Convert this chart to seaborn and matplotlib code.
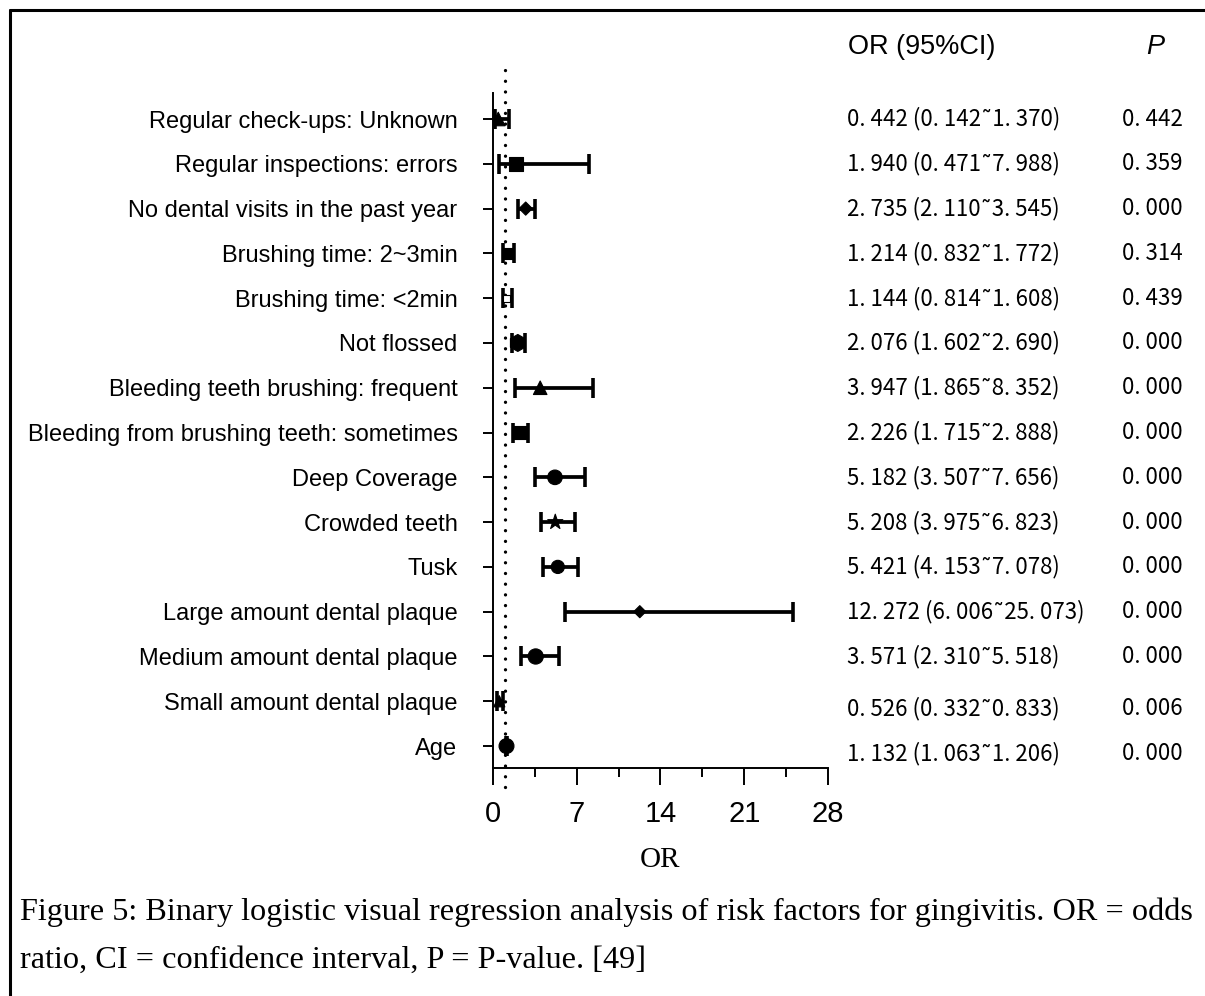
import matplotlib
matplotlib.use("Agg")
import matplotlib.pyplot as plt
import matplotlib.transforms as mtransforms
from matplotlib.lines import Line2D
from matplotlib.ticker import MultipleLocator
import numpy as np
import pandas as pd
import seaborn as sns

# data, top row first (as in the figure)
labels = [
    "Regular check-ups: Unknown",
    "Regular inspections: errors",
    "No dental visits in the past year",
    "Brushing time: 2~3min",
    "Brushing time: <2min",
    "Not flossed",
    "Bleeding teeth brushing: frequent",
    "Bleeding from brushing teeth: sometimes",
    "Deep Coverage",
    "Crowded teeth",
    "Tusk",
    "Large amount dental plaque",
    "Medium amount dental plaque",
    "Small amount dental plaque",
    "Age",
]
or_vals = [0.442, 1.940, 2.735, 1.214, 1.144, 2.076, 3.947, 2.226, 5.182, 5.208, 5.421, 12.272, 3.571, 0.526, 1.132]
ci_low = [0.142, 0.471, 2.110, 0.832, 0.814, 1.602, 1.865, 1.715, 3.507, 3.975, 4.153, 6.006, 2.310, 0.332, 1.063]
ci_high = [1.370, 7.988, 3.545, 1.772, 1.608, 2.690, 8.352, 2.888, 7.656, 6.823, 7.078, 25.073, 5.518, 0.833, 1.206]
p_vals = [0.442, 0.359, 0.000, 0.314, 0.439, 0.000, 0.000, 0.000, 0.000, 0.000, 0.000, 0.000, 0.000, 0.006, 0.000]
x_ticks = [0, 7, 14, 21, 28]

# marker shape / size per row
marker_list = ['^', 's', 'D', 's', 's', 'h', '^', 's', 'o', '*', 'o', 'D', 'o', '^', 'o']
size_list = [95, 95, 45, 65, 25, 150, 95, 95, 110, 130, 90, 38, 120, 65, 115]

n = len(labels)
df = pd.DataFrame({
    'label': labels,
    'OR': or_vals,
    'lo': ci_low,
    'hi': ci_high,
    'P': p_vals,
})
df['pos'] = np.arange(n)[::-1]

sns.set_style('ticks')
plt.rcParams['font.family'] = ['Liberation Sans', 'DejaVu Sans']
plt.rcParams.update({'text.color': 'black', 'axes.labelcolor': 'black',
                     'xtick.color': 'black', 'ytick.color': 'black',
                     'axes.edgecolor': 'black'})

fig = plt.figure(figsize=(12.05, 9.96), dpi=100)
ax = fig.add_axes([0.4091, 0.2289, 0.2780, 0.6777])

# CI bars
ax.errorbar(df['OR'], df['pos'],
            xerr=[df['OR'] - df['lo'], df['hi'] - df['OR']],
            fmt='none', ecolor='black', elinewidth=2.7,
            capsize=7, capthick=2.6, zorder=3)

# point estimates
sns.scatterplot(data=df, x='OR', y='pos', style='label', size='label',
                markers=dict(zip(labels, marker_list)),
                sizes=dict(zip(labels, size_list)),
                color='black', edgecolor='black', linewidth=0.8,
                legend=False, ax=ax, zorder=4)
# hollow marker for "<2min"
pts = ax.collections[-1]
fc = np.tile([0, 0, 0, 1.0], (n, 1))
fc[labels.index("Brushing time: <2min")] = [1, 1, 1, 1]
pts.set_facecolors(fc)

# reference line OR = 1
ax.plot([1, 1], [-0.92, 15.14], color='black', lw=2.4,
        linestyle=(0, (0.01, 3.2)), dash_capstyle='round',
        clip_on=False, zorder=2)

ax.set_xlim(0, 28)
ax.set_ylim(-0.49, 14.58)
ax.set_xticks(x_ticks)
ax.xaxis.set_minor_locator(MultipleLocator(3.5))
ax.set_yticks(df['pos'])
ax.set_yticklabels(labels, fontsize=17)
ax.tick_params(axis='y', length=7.5, width=1.4, pad=18)
ax.tick_params(axis='x', which='major', length=12, width=1.4, pad=11, labelsize=21)
ax.tick_params(axis='x', which='minor', length=6.5, width=1.4)
for s in ['left', 'bottom']:
    ax.spines[s].set_linewidth(1.4)
sns.despine(ax=ax)
ax.set_xlabel('OR', fontsize=21, family=['Liberation Serif'], labelpad=14)
ax.set_ylabel('')

# right-hand table
trans = mtransforms.blended_transform_factory(fig.transFigure, ax.transData)
cjk = ['Noto Sans CJK SC', 'DejaVu Sans']
y_shift = [0] * (n - 2) + [-0.16, -0.16]
for i in range(n):
    fmt = lambda v: f"{v:.3f}".replace('.', '. ')
    txt = f"{fmt(or_vals[i])} ({fmt(ci_low[i])}\u02dc{fmt(ci_high[i])})"
    y = df['pos'][i] + y_shift[i]
    fig.text(847 / 1205, y, txt, transform=trans, ha='left', va='center',
             fontsize=16, family=cjk)
    fig.text(1152 / 1205, y, fmt(p_vals[i]), transform=trans, ha='center',
             va='center', fontsize=16, family=cjk)

fig.text(922 / 1205, 1 - 47 / 996, 'OR (95%CI)', ha='center', va='center', fontsize=19.5)
fig.text(1155 / 1205, 1 - 47 / 996, 'P', ha='center', va='center', fontsize=19.5,
         style='italic')

# caption
fig.text(20 / 1205, 1 - 912 / 996,
         'Figure 5: Binary logistic visual regression analysis of risk factors for gingivitis. OR = odds',
         ha='left', va='center', fontsize=23.2, family=['Liberation Serif'])
fig.text(20 / 1205, 1 - 960 / 996,
         'ratio, CI = confidence interval, P = P-value. [49]',
         ha='left', va='center', fontsize=23.2, family=['Liberation Serif'])

# frame (left and top edges)
fig.add_artist(Line2D([10 / 1205, 10 / 1205], [0, 1 - 10 / 996],
                      transform=fig.transFigure, color='black', lw=2.2))
fig.add_artist(Line2D([10 / 1205, 1], [1 - 10 / 996, 1 - 10 / 996],
                      transform=fig.transFigure, color='black', lw=2.2))

fig.savefig('out.png', dpi=100)
